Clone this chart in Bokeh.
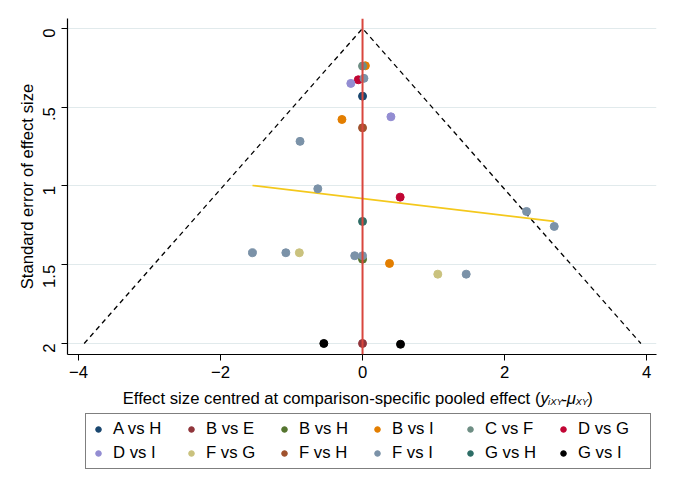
import math
from bokeh.plotting import figure
from bokeh.layouts import column
from bokeh.models import (Range1d, FixedTicker, Span, Label, Legend, LegendItem)
from bokeh.embed import file_html
from bokeh.resources import INLINE

# ---------------- data ----------------
groups = ["A vs H", "B vs E", "B vs H", "B vs I", "C vs F", "D vs G",
          "D vs I", "F vs G", "F vs H", "F vs I", "G vs H", "G vs I"]
colors = ["#1a476f", "#90353b", "#55752f", "#e37e00", "#6e8e84", "#c10534",
          "#938dd2", "#cac27e", "#a0522d", "#7b92a8", "#2d6d66", "#000000"]

ah_x = [0.0];                 ah_se = [0.43]
be_x = [0.0];                 be_se = [2.0]
bh_x = [0.0];                 bh_se = [1.465]
bi_x = [0.04, -0.29, 0.38];   bi_se = [0.237, 0.578, 1.492]
cf_x = [0.0];                 cf_se = [0.239]
dg_x = [-0.06, 0.53];         dg_se = [0.326, 1.071]
di_x = [-0.165, 0.40];        di_se = [0.349, 0.561]
fg_x = [-0.89, 1.06];         fg_se = [1.424, 1.56]
fh_x = [0.0];                 fh_se = [0.631]
fi_x = [0.02, -0.88, -0.63, 2.31, 2.70, -1.55, -1.08, -0.11, 0.0, 1.46]
fi_se = [0.317, 0.717, 1.018, 1.162, 1.257, 1.424, 1.424, 1.443, 1.443, 1.56]
gh_x = [0.0];                 gh_se = [1.225]
gi_x = [-0.545, 0.535];       gi_se = [2.0, 2.005]

group_x = [ah_x, be_x, bh_x, bi_x, cf_x, dg_x, di_x, fg_x, fh_x, fi_x, gh_x, gi_x]
group_se = [ah_se, be_se, bh_se, bi_se, cf_se, dg_se, di_se, fg_se, fh_se, fi_se, gh_se, gi_se]

funnel_x = [-3.92, 0.0, 3.92]
funnel_se = [2.0, 0.0, 2.0]
reg_x = [-1.55, 2.70]
reg_se = [0.997, 1.225]

x_ticks = [-4, -2, 0, 2, 4]
y_ticks = [0, 0.5, 1, 1.5, 2]
y_tick_labels = ["0", ".5", "1", "1.5", "2"]

FONT = "Liberation Sans"
FS = "16.7px"

# ---------------- main figure ----------------
p = figure(width=675, height=385, output_backend="svg", toolbar_location=None,
           x_range=Range1d(-4.155, 4.14), y_range=Range1d(2.07, -0.063),
           min_border_left=67, min_border_right=19, min_border_top=18,
           min_border_bottom=31)
p.outline_line_color = None
p.background_fill_color = "white"
p.border_fill_color = "white"

p.xgrid.visible = False
p.ygrid.grid_line_color = "#e1eaec"
p.ygrid.grid_line_width = 1.2

for ax in (p.xaxis[0], p.yaxis[0]):
    ax.axis_line_color = "black"
    ax.axis_line_width = 1.2
    ax.major_tick_line_color = "black"
    ax.major_tick_out = 6
    ax.major_tick_in = 0
    ax.minor_tick_line_color = None
    ax.major_label_text_font = FONT
    ax.major_label_text_font_size = FS
    ax.major_label_text_color = "black"
    ax.axis_label_text_font = FONT
    ax.axis_label_text_font_size = FS
    ax.axis_label_text_font_style = "normal"
    ax.axis_label_text_color = "black"

p.xaxis.ticker = FixedTicker(ticks=x_ticks)
p.xaxis.major_label_standoff = 5
p.yaxis.ticker = FixedTicker(ticks=y_ticks)
p.yaxis.major_label_overrides = {t: l for t, l in zip(y_ticks, y_tick_labels)}
p.yaxis.major_label_orientation = math.pi / 2
p.yaxis.major_label_standoff = 12
p.yaxis.axis_label = "Standard error of effect size"
p.yaxis.axis_label_standoff = -2

# funnel, reference line, regression line
p.line(funnel_x, funnel_se, line_color="black", line_width=1.3, line_dash="5 4")
p.add_layout(Span(location=0, dimension="height", line_color="#d9463e", line_width=2))
p.line(reg_x, reg_se, line_color="#f4c81c", line_width=1.6)

for name, col, xs, ses in zip(groups, colors, group_x, group_se):
    p.scatter(xs, ses, size=8, fill_color=col, line_color=col)

# ---------------- bottom strip: x title + legend ----------------
q = figure(width=675, height=103, output_backend="svg", toolbar_location=None,
           x_range=Range1d(0, 675), y_range=Range1d(488, 385),
           x_axis_type=None, y_axis_type=None,
           min_border_left=0, min_border_right=0, min_border_top=0,
           min_border_bottom=0)
q.outline_line_color = None
q.grid.visible = False
q.background_fill_color = "white"
q.border_fill_color = "white"

items = []
for name, col in zip(groups, colors):
    r = q.scatter([float("nan")], [float("nan")], size=8, fill_color=col, line_color=col)
    items.append(LegendItem(label=name, renderers=[r]))

legend = Legend(items=items, orientation="horizontal", ncols=6,
                location=(18, 19), border_line_color="black",
                border_line_width=1, background_fill_color="white",
                background_fill_alpha=1, padding=5, spacing=4, margin=0,
                glyph_width=14, glyph_height=20, label_standoff=8,
                label_width=67, label_height=20,
                label_text_font=FONT, label_text_font_size=FS,
                label_text_color="black")
q.add_layout(legend, "center")

base_y = 398
q.add_layout(Label(x=542, y=base_y,
                   text="Effect size centred at comparison-specific pooled effect (",
                   text_font=FONT, text_font_size=FS, text_align="right",
                   text_baseline="alphabetic", text_color="black"))
pieces = [("y", 16.7, 0, 8.8), ("iXY", 9.5, 3, 15.4), ("-", 16.7, 0, 6.0),
          ("\u03bc", 16.7, 0, 10.0), ("XY", 9.5, 3, 13.4), (")", 16.7, 0, 5.6)]
cx = 542
for txt, fs, dy, w in pieces:
    style = "normal" if txt in ("-", ")") else "italic"
    q.add_layout(Label(x=cx, y=base_y + dy,
                       text=txt, text_font=FONT, text_font_size=f"{fs}px",
                       text_font_style=style, text_align="left",
                       text_baseline="alphabetic", text_color="black"))
    cx += w

layout = column(p, q, spacing=0)
open("out.html", "w").write(file_html(layout, INLINE))
